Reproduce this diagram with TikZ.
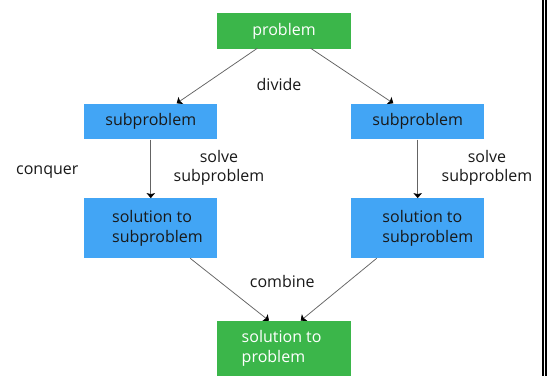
\documentclass[tikz,border=0pt]{standalone}
\usepackage{fontspec}
\setmainfont{Open Sans}
\usetikzlibrary{arrows.meta}
\definecolor{boxgreen}{RGB}{59,182,74}
\definecolor{boxblue}{RGB}{66,165,245}
\definecolor{txtdark}{RGB}{25,25,25}
\definecolor{linegray}{RGB}{100,100,100}
\tikzset{
  box/.style={rectangle, draw=none, inner sep=0pt, font=\fontsize{16}{19.6}\selectfont},
  greenbox/.style={box, fill=boxgreen, text=white},
  bluebox/.style={box, fill=boxblue, text=txtdark},
  lbl/.style={text=txtdark, inner sep=0pt, align=center, font=\fontsize{16}{19.6}\selectfont},
  arr/.style={draw=linegray, line width=0.75pt, -{Stealth[length=5pt,width=8.5pt,inset=1pt,color=black,fill=black]}}
}
\begin{document}
\begin{tikzpicture}[x=1pt,y=-1pt]
\useasboundingbox (0,0) rectangle (547,376);
\fill[white] (0,0) rectangle (547,376);
% right edge bars
\fill[black] (541.7,0) rectangle (543.7,376);
\fill[black] (545,0) rectangle (547,376);

\node[greenbox, minimum width=134pt, minimum height=36pt] (prob) at (284,31) {problem};
\node[bluebox, minimum width=133pt, minimum height=35.7pt] (subl) at (150.8,121.5) {subproblem};
\node[bluebox, minimum width=133pt, minimum height=35.7pt] (subr) at (417.7,121.5) {subproblem};
\node[bluebox, minimum width=133pt, minimum height=60pt, align=left] (soll) at (150.8,228.3) {\hspace*{13.4pt}solution to\\\hspace*{13.4pt}subproblem};
\node[bluebox, minimum width=133pt, minimum height=60pt, align=left] (solr) at (417.7,228.3) {\hspace*{20.2pt}solution to\\\hspace*{20.2pt}subproblem};
\node[greenbox, minimum width=134pt, minimum height=55.3pt, align=left] (final) at (284,348.4) {solution to\hspace*{4.7pt}\mbox{}\\problem};

\node[lbl] (divide) at (279,84) {divide};
\node[lbl] (conquer) at (47.3,172) {conquer};
\node[lbl] (solvel) at (219,168) {solve\\subproblem};
\node[lbl] (solver) at (487,168) {solve\\subproblem};
\node[lbl] (combine) at (282.3,281.5) {combine};

\coordinate (a1) at (257.3,48.3);
\coordinate (a2) at (176.7,103.3);
\coordinate (b1) at (310.7,48.3);
\coordinate (b2) at (393.3,103.3);
\coordinate (c1) at (190.2,258.3);
\coordinate (c2) at (269,320.7);
\coordinate (d1) at (376.7,258.3);
\coordinate (d2) at (300.7,320.7);

\draw[arr] (a1) -- (a2);
\draw[arr] (b1) -- (b2);
\draw[arr] (subl.south) -- (soll.north);
\draw[arr] (subr.south) -- (solr.north);
\draw[arr] (c1) -- (c2);
\draw[arr] (d1) -- (d2);
\end{tikzpicture}
\end{document}
